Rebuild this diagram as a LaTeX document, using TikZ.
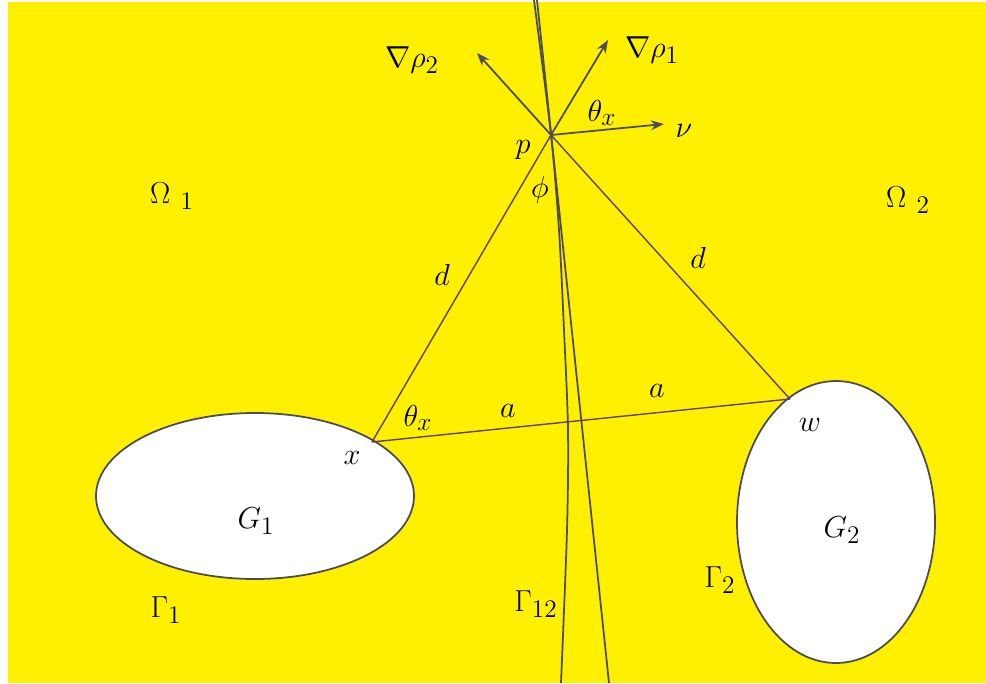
\documentclass[tikz,border=0pt]{standalone}
\usepackage{amsmath,amssymb}
\usetikzlibrary{arrows.meta}
\definecolor{bgyellow}{RGB}{255,240,0}
\definecolor{edgegray}{RGB}{75,75,90}
\definecolor{chordpurple}{RGB}{95,65,90}

\begin{document}
\begin{tikzpicture}[x=0.02cm,y=-0.02cm,>=Stealth,
    every node/.style={inner sep=0pt,font=\fontsize{19}{23}\selectfont}]
        \useasboundingbox (0,0) rectangle (986,683);
        \fill[bgyellow] (8,2) rectangle (986,683);
        % the two holes
        \draw[edgegray,line width=1pt,fill=white] (255,496) ellipse [x radius=159,y radius=83];
        \draw[edgegray,line width=1pt,fill=white] (836,522) ellipse [x radius=99,y radius=141];
        % interfaces
        \draw[edgegray,line width=1pt] plot[smooth] coordinates
          {(534,0) (551,135) (559,230) (564,330) (568,430) (567,530) (561,683)};
        \draw[edgegray,line width=1pt] (537,0) -- (609,683);
        \coordinate (p) at (551,135);
        \coordinate (x) at (372,442);
        \coordinate (w) at (790,399);
        \coordinate (rhotwo) at (477,53);
        \coordinate (rhoone) at (608,40);
        \coordinate (nu) at (664,124);
        \draw[chordpurple,line width=0.8pt] (x) -- (p);
        \draw[chordpurple,line width=0.8pt] (p) -- (w);
        \draw[chordpurple,line width=0.8pt] (x) -- (w);
        \draw[->,edgegray,line width=1pt] (p) -- (rhotwo);
        \draw[->,edgegray,line width=1pt] (p) -- (rhoone);
        \draw[->,edgegray,line width=1pt] (p) -- (nu);
        \node (lrhotwo) at (412,60) {$\nabla\rho_2$};
        \node (lrhoone) at (652,50) {$\nabla\rho_1$};
        \node (lthetaup) at (602,113) {$\theta_x$};
        \node (lnu) at (684,131) {$\nu$};
        \node (lp) at (523,150) {$p$};
        \node (lphi) at (540,190) {$\phi$};
        \node (lomegaone) at (172,196) {$\Omega\ _1$};
        \node (lomegatwo) at (908,200) {$\Omega\ _2$};
        \node (ldleft) at (442,275) {$d$};
        \node (ldright) at (698,258) {$d$};
        \node (lthetalow) at (418,418) {$\theta_x$};
        \node (laleft) at (508,411) {$a$};
        \node (laright) at (657,391) {$a$};
        \node (lx) at (352,458) {$x$};
        \node (lw) at (810,425) {$w$};
        \node (lgone) at (256,521) {$G_1$};
        \node (lgtwo) at (842,530) {$G_2$};
        \node (lgammaone) at (166,610) {$\Gamma_1$};
        \node (lgammatwelve) at (536,604) {$\Gamma_{12}$};
        \node (lgammatwo) at (720,580) {$\Gamma_2$};
      \end{tikzpicture}
\end{document}
